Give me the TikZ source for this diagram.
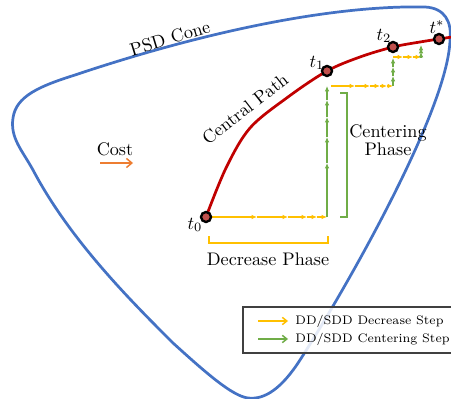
\documentclass[tikz,border=0pt]{standalone}
\usepackage{tikz}
\usetikzlibrary{positioning,
        arrows.meta}
\usepackage{amsmath}
\usepackage{xcolor}
\definecolor{coneblue}{HTML}{4472C4}
\definecolor{pathred}{HTML}{C00000}
\definecolor{ptred}{HTML}{C0504D}
\definecolor{decyellow}{HTML}{FFC000}
\definecolor{cengreen}{HTML}{70AD47}
\definecolor{costorange}{HTML}{ED7D31}

\begin{document}
\begin{tikzpicture}[x=0.55pt,y=-0.55pt,
            tpt/.style={circle,draw=black,line width=1.3pt,fill=ptred,minimum size=5.5pt,inner sep=0pt},
            dec/.style={-{Latex[length=3pt,width=2.6pt]},line width=0.8pt,draw=decyellow},
            cen/.style={-{Latex[length=3pt,width=2.6pt]},line width=0.8pt,draw=cengreen}]
            \useasboundingbox (0,0) rectangle (451,398);

            % cone and central path
            \draw [coneblue, line width=1.5pt] (75,75) .. controls (200,33) and (330,5) .. (425,7)
                .. controls (445,8) and (452,22) .. (450,40)
                .. controls (448,110) and (345,290) .. (300,360)
                .. controls (282,388) and (265,400) .. (248,398)
                .. controls (232,396) and (205,372) .. (173,343)
                .. controls (130,300) and (70,240) .. (33,170)
                .. controls (22,150) and (10,138) .. (13,118)
                .. controls (16,96) and (40,86) .. cycle;
            \node [rotate=17] (cone) at (170,38) {PSD Cone};

            \coordinate (p0) at (206,217);
            \coordinate (p1) at (327,71);
            \coordinate (p2) at (393,47);
            \coordinate (p3) at (439,39);
            \draw [pathred, line width=1.5pt] plot [smooth, tension=0.55] coordinates {
                (p0) (226,168) (250,128) (288,97) (p1) (360,57) (p2) (420,42) (p3) (452,37)};
            \node [rotate=38] (cpath) at (245,109) {Central Path};

            % decrease / centering steps
            \foreach \a/\b in {206/257, 257/288, 288/307, 307/317, 317/327}
                \draw [dec] (\a,217) -- (\b,217);
            \foreach \a/\b in {217/163, 163/137, 137/117, 117/100, 100/86}
                \draw [cen] (327,\a) -- (327,\b);
            \foreach \a/\b in {331/355, 355/370, 370/380, 380/387, 387/393}
                \draw [dec] (\a,86) -- (\b,86);
            \foreach \a/\b in {86/76, 76/67, 67/58}
                \draw [cen] (393,\a) -- (393,\b);
            \foreach \a/\b in {393/403, 403/413, 413/421}
                \draw [dec] (\a,57) -- (\b,57);
            \foreach \a/\b in {57/52, 52/48, 48/45}
                \draw [cen] (421,\a) -- (421,\b);

            \node [tpt] (t0) at (p0) {};
            \node [tpt] (t1) at (p1) {};
            \node [tpt] (t2) at (p2) {};
            \node [tpt] (ts) at (p3) {};
            \node (t0lab) at (195,225) {$t_0$};
            \node (t1lab) at (317,63) {$t_1$};
            \node (t2lab) at (384,36) {$t_2$};
            \node (tslab) at (437,27) {$t^{*}$};

            % phase brackets
            \draw [decyellow, line width=1.4pt] (209,236) -- (209,243) -- (328,243) -- (328,236);
            \node (decph) at (268,259) {Decrease Phase};
            \draw [cengreen, line width=1.4pt] (340,93) -- (347,93) -- (347,217) -- (340,217);
            \node [align=center, inner sep=0pt] (cenph) at (388,140) {Centering\\[-2pt]Phase};

            % cost direction
            \node (cost) at (115,149) {Cost};
            \draw [costorange, line width=0.8pt, -{Straight Barb[length=3pt,width=5pt]}] (100,163) -- (133,163);

            % legend
            \draw [black!75, line width=0.6pt, fill=white, fill opacity=0.85] (243,307) rectangle (455,353);
            \coordinate (l1a) at (258,321);
            \coordinate (l1b) at (288,321);
            \coordinate (l2a) at (258,339);
            \coordinate (l2b) at (288,339);
            \draw [dec, -{Straight Barb[length=2.5pt,width=4pt]}] (l1a) -- (l1b);
            \draw [cen, -{Straight Barb[length=2.5pt,width=4pt]}] (l2a) -- (l2b);
            \node [anchor=west, font=\fontsize{6.8}{8}\selectfont, inner sep=0pt] (leg1) at (295,321) {DD/SDD Decrease Step};
            \node [anchor=west, font=\fontsize{6.8}{8}\selectfont, inner sep=0pt] (leg2) at (295,339) {DD/SDD Centering Step};
        \end{tikzpicture}
\end{document}
